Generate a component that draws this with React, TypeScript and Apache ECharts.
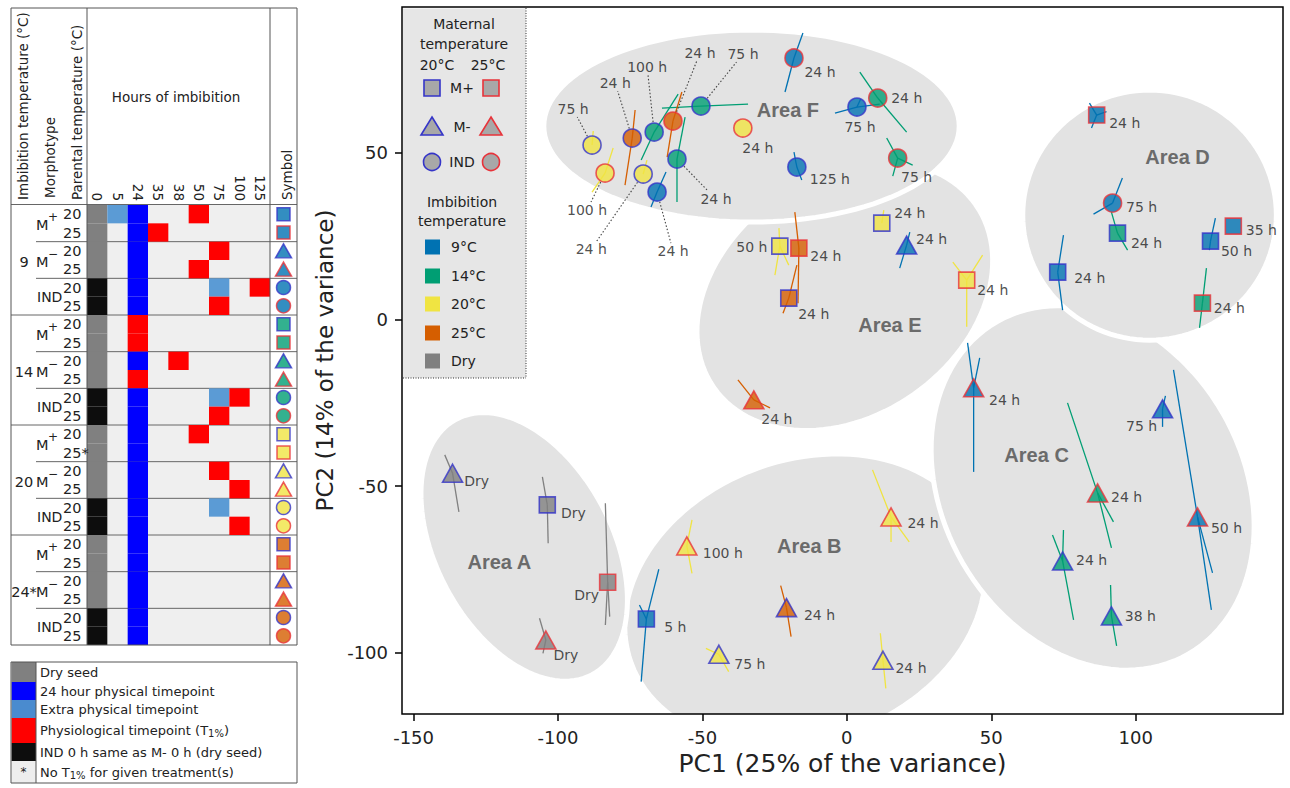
import React, { useEffect, useRef } from "react";
import * as echarts from "echarts";

// ---------------- Left table data ----------------
const hourCats = ["0", "5", "24", "35", "38", "50", "75", "100", "125"];
const tempGroups = ["9", "14", "20", "24*"];
const morphNames = ["M+", "M-", "IND"];
const parentTemps = ["20", "25"];
// one code per hour column: g dry seed, k IND 0 h, b 24 h physical, l extra physical, r physiological (T1%)
const rowCodes = [
  "glb..r...", "g.br.....", "g.b...r..", "g.b..r...", "k.b...l.r", "k.b...r..",
  "g.r......", "g.r......", "g.b.r....", "g.r......", "k.b...lr.", "k.b...r..",
  "g.b..r...", "g.b......", "g.b...r..", "g.b....r.", "k.b...l..", "k.b....r.",
  "g.b......", "g.b......", "g.b......", "g.b......", "k.b......", "k.b......",
];
const noT1Rows = [13];
const keyCodes = ["g", "b", "l", "r", "k", "n"];
const keyTexts = [
  "Dry seed",
  "24 hour physical timepoint",
  "Extra physical timepoint",
  "Physiological timepoint (T1%)",
  "IND 0 h same as M- 0 h (dry seed)",
  "No T1% for given treatment(s)",
];

// ---------------- PCA scatter data ----------------
const ptX = [
  -18.3, 10.7, 3.5, 17.6, -17.3, -36.0, -50.5, -60.2, -66.7, -74.3, -88.2, -83.7, -70.5, -65.7, -58.8,
  86.5, 92.0, 93.7, 73.0, 133.8, 125.9, 123.1,
  12.1, 20.7, 41.5, -23.2, -16.6, -20.1, -32.2,
  43.9, 109.3, 86.8, 121.4, 74.7, 91.6,
  -136.5, -103.7, -82.8, -104.2,
  -69.4, -55.4, -20.9, -44.3, 15.3, 12.5,
];
const ptY = [
  78.4, 66.4, 63.7, 48.4, 45.7, 57.4, 64.0, 59.5, 56.2, 54.4, 52.3, 43.9, 43.6, 38.2, 48.1,
  61.3, 34.9, 25.9, 14.2, 28.0, 23.5, 4.9,
  28.9, 22.3, 11.8, 22.0, 21.4, 6.4, -24.1,
  -20.5, -26.8, -52.0, -59.2, -72.4, -88.9,
  -46.1, -55.6, -78.8, -96.1,
  -89.8, -67.9, -86.4, -100.4, -59.2, -102.2,
];
const ptImb = [
  "9", "14", "9", "14", "9", "20", "14", "25", "14", "25", "20", "20", "20", "9", "14",
  "9", "9", "14", "9", "9", "9", "14",
  "20", "9", "20", "20", "25", "25", "25",
  "9", "9", "14", "9", "14", "14",
  "Dry", "Dry", "Dry", "Dry",
  "9", "20", "25", "20", "20", "20",
];
const ptMat = [
  25, 25, 20, 25, 20, 25, 20, 25, 20, 20, 20, 25, 20, 20, 20,
  25, 25, 20, 20, 25, 20, 25,
  20, 20, 25, 20, 25, 20, 25,
  25, 20, 25, 25, 20, 20,
  20, 20, 25, 25,
  20, 25, 20, 20, 25, 20,
];
const ptMorph = [
  "IND", "IND", "IND", "IND", "IND", "IND", "IND", "IND", "IND", "IND", "IND", "IND", "IND", "IND", "IND",
  "M+", "IND", "M+", "M+", "M+", "M+", "M+",
  "M+", "M-", "M+", "M+", "M+", "M+", "M-",
  "M-", "M-", "M-", "M-", "M-", "M-",
  "M-", "M+", "M+", "M-",
  "M+", "M-", "M-", "M-", "M-", "M-",
];
const ptHour = [
  "24 h", "24 h", "75 h", "75 h", "125 h", "24 h", "75 h", "24 h", "100 h", "24 h", "75 h", "100 h", "24 h", "24 h", "24 h",
  "24 h", "75 h", "24 h", "24 h", "35 h", "50 h", "24 h",
  "24 h", "24 h", "24 h", "50 h", "24 h", "24 h", "24 h",
  "24 h", "75 h", "24 h", "50 h", "24 h", "38 h",
  "Dry", "Dry", "Dry", "Dry",
  "5 h", "100 h", "24 h", "75 h", "24 h", "24 h",
];
// replicate positions (line ends) around each treatment centroid
const ptReps: number[][][] = [
  [[-15.2, 85.9], [-21.4, 68.2]], [[4.5, 74.2], [20.7, 56.2]], [[-4.1, 61.9], [11.4, 64.6], [4.8, 66.1]],
  [[13.8, 54.4], [22.8, 46.3], [15.9, 43.0]], [[-18.3, 50.2], [-15.6, 41.8]], [],
  [[-64.0, 63.4], [-34.2, 64.6]], [[-57.1, 68.2], [-62.2, 48.7]], [[-58.4, 67.6], [-71.2, 47.8]],
  [[-73.3, 62.8], [-76.8, 40.3]], [[-87.8, 56.5]], [[-80.9, 51.4], [-88.2, 38.2]],
  [[-69.2, 47.8]], [[-62.6, 44.2], [-67.8, 33.7]], [[-56.0, 60.7], [-58.8, 35.2]],
  [[84.0, 64.9], [84.7, 57.4], [89.9, 62.3]], [[95.4, 42.4], [85.4, 31.6]], [[91.6, 32.2], [97.2, 20.8]],
  [[75.0, 25.3], [74.7, 2.8]], [], [[127.6, 30.4], [125.5, 20.8]], [[124.5, 15.4], [122.1, -2.5]],
  [[12.8, 32.8]], [[21.8, 26.2], [18.3, 15.4]], [[41.5, -2.2], [36.7, 17.2], [47.0, 19.3]],
  [[-23.5, 27.4], [-24.9, 13.3], [-20.1, 16.3]], [[-18.0, 32.2], [-16.9, 4.9]], [[-17.3, 16.3], [-22.1, 1.9]],
  [[-37.7, -18.1], [-26.6, -26.5]],
  [[41.8, -7.0], [43.9, -45.7], [46.0, -11.5]], [[110.3, -22.9], [109.3, -32.2]],
  [[76.4, -25.0], [91.6, -68.5], [92.3, -60.7]], [[113.1, -15.1], [126.2, -87.1], [126.6, -76.0]],
  [[71.2, -64.6], [78.5, -90.1], [75.0, -63.1]], [[91.3, -79.6], [93.4, -97.9]],
  [[-139.2, -40.6], [-134.3, -57.7]], [[-105.4, -47.2], [-103.4, -67.1]],
  [[-83.6, -55.1], [-83.6, -91.6], [-82.1, -89.1]], [[-106.4, -89.6], [-105.2, -100.1]],
  [[-65.1, -74.9], [-71.2, -108.6], [-71.8, -85.6]], [[-53.6, -60.1], [-53.6, -76.1]],
  [[-22.9, -79.8], [-19.3, -95.1]], [[-48.8, -98.6], [-40.9, -105.6]],
  [[8.9, -45.1], [21.6, -66.7], [15.3, -66.7]], [[11.6, -94.1], [13.5, -110.6]],
];

// grouping areas (ellipses in data units, tilt in screen degrees)
const areaNames = ["Area B", "Area A", "Area E", "Area C", "Area D", "Area F"];
const areaCX = [-14.5, -111.7, -0.7, 85.1, 104.8, -33.0];
const areaCY = [-84.1, -68.2, 7.0, -50.5, 31.3, 58.0];
const areaRX = [64.0, 50.1, 55.3, 66.4, 43.9, 71.9];
const areaRY = [42.0, 26.4, 36.0, 45.0, 37.5, 28.8];
const areaTilt = [-20, 62, -35, 60, 0, 0];
const areaLabelX = [-13.0, -120.3, 14.9, 65.7, 114.5, -20.4];
const areaLabelY = [-67.9, -72.7, -1.6, -40.6, 48.7, 62.8];

const xTicks = [-150, -100, -50, 0, 50, 100];
const yTicks = [-100, -50, 0, 50];

const imbKeys = ["9", "14", "20", "25", "Dry"];
const imbLabels = ["9°C", "14°C", "20°C", "25°C", "Dry"];

// ---------------- styles ----------------
const FONT = "DejaVu Sans";
const imbColor: Record<string, string> = { "9": "#0072B2", "14": "#009E73", "20": "#F0E442", "25": "#D55E00", Dry: "#808080" };
const matColor: Record<number, string> = { 20: "#3535c8", 25: "#e8333a" };
const cellColor: Record<string, string> = { g: "#808080", k: "#0d0d0d", b: "#0000ff", l: "#5b9bd5", r: "#ff0000", n: "#eeeeee" };
const groupFill = ["#0072B2", "#009E73", "#F0E442", "#D55E00"];
const symOf: Record<string, string> = { "M+": "rect", "M-": "triangle", IND: "circle" };
const sizeOf: Record<string, any> = { "M+": 16, "M-": [20, 18], IND: 18 };
const tableSize: Record<string, any> = { "M+": 13, "M-": [16, 14], IND: 14 };
// label centre offsets from symbol centre (px)
const labelShift: number[][] = [
  [26, 14], [29, 0], [3, 20], [19, 19], [33, 12], [15, 20], [42, -52], [27, -68], [-7, -65], [-17, -55], [-19, -36], [-18, 37], [-52, 75], [16, 59], [39, 40],
  [28, 8], [29, 4], [29, 10], [32, 6], [28, 4], [26, 10], [27, 5],
  [28, -10], [25, -6], [26, 10], [-28, 1], [27, 8], [25, 16], [23, 19],
  [31, 12], [-21, 17], [29, 4], [29, 11], [29, -1], [29, 0],
  [24, 8], [26, 8], [-21, 13], [20, 15],
  [29, 8], [36, 7], [33, 7], [31, 10], [32, 6], [28, 8],
];
const leaderIdx = [6, 7, 8, 9, 10, 11, 12, 13, 14];

function buildOption() {
  const H = 440 / 24;
  const T0 = 205;
  const gr: any[] = [];
  const text = (t: string, x: number, y: number, o: any = {}) => ({
    type: "text", x, y, z: 60, silent: true, rotation: o.rot || 0,
    style: {
      text: t, fontSize: o.size || 14, fontFamily: o.family || FONT, fontWeight: o.weight || "normal",
      fill: o.color || "#222", align: o.align || "left", verticalAlign: o.va || "middle", rich: o.rich,
    },
  });
  const line = (x1: number, y1: number, x2: number, y2: number, z = 1, color = "#666", extra: any = {}) => ({
    type: "line", z, silent: true, shape: { x1, y1, x2, y2 }, style: { stroke: color, lineWidth: 1, ...extra },
  });

  // ---- table body ----
  gr.push({ type: "rect", z: 0, silent: true, shape: { x: 87, y: T0, width: 183, height: 440 }, style: { fill: "#efefef" } });
  gr.push(line(11, 204.5, 297, 204.5, 50));
  for (let k = 1; k < 4; k++) gr.push(line(11, T0 + 6 * k * H, 297, T0 + 6 * k * H, 1));
  for (let k = 0; k < 4; k++) {
    gr.push(line(36, T0 + (6 * k + 2) * H, 297, T0 + (6 * k + 2) * H, 1));
    gr.push(line(36, T0 + (6 * k + 4) * H, 297, T0 + (6 * k + 4) * H, 1));
  }
  gr.push({ type: "rect", z: 50, silent: true, shape: { x: 11, y: 8, width: 286, height: 637 }, style: { fill: "none", stroke: "#555", lineWidth: 1 } });
  gr.push(line(87, 8, 87, 645, 50, "#555"));
  gr.push(line(270, 8, 270, 645, 50, "#555"));

  // header
  gr.push(text("Imbibition temperature (°C)", 23, 200, { rot: Math.PI / 2, size: 13.5 }));
  gr.push(text("Morphotype", 50, 198, { rot: Math.PI / 2, size: 13.5 }));
  gr.push(text("Parental temperature (°C)", 77, 200, { rot: Math.PI / 2, size: 13.5 }));
  gr.push(text("Symbol", 287, 200, { rot: Math.PI / 2, size: 13.5 }));
  gr.push(text("Hours of imbibition", 176, 97, { size: 13.5, align: "center" }));

  // row labels
  tempGroups.forEach((tg, g) => {
    gr.push(text(tg, 24, T0 + (6 * g + 3) * H + 2, { size: 14.5, align: "center" }));
    morphNames.forEach((m, mi) => {
      const r0 = 6 * g + 2 * mi;
      const cy = T0 + (r0 + 1) * H;
      if (m === "IND") {
        gr.push(text("IND", 37, cy, { size: 14 }));
      } else {
        gr.push(text("M", 36, cy + 2, { size: 14.5 }));
        gr.push(text(m === "M+" ? "+" : "−", 48, cy - 6, { size: 12 }));
      }
      parentTemps.forEach((p, pi) => {
        const r = r0 + pi;
        gr.push(text(p + (noT1Rows.indexOf(r) >= 0 ? "*" : ""), 63, T0 + (r + 0.5) * H, { size: 14.5 }));
      });
    });
  });

  // table key
  const keyTops = [662, 682, 700, 718, 743, 761, 783];
  gr.push({ type: "rect", z: 50, silent: true, shape: { x: 11, y: 662, width: 286, height: 121 }, style: { fill: "none", stroke: "#555", lineWidth: 1 } });
  keyCodes.forEach((c, i) => {
    gr.push({ type: "rect", z: 40, silent: true, shape: { x: 11.5, y: keyTops[i], width: 24.5, height: keyTops[i + 1] - keyTops[i] }, style: { fill: c === "l" ? "#4a8bcf" : cellColor[c] } });
    const t = keyTexts[i].replace("T1%", "T{s|1%}");
    gr.push(text(t, 40, (keyTops[i] + keyTops[i + 1]) / 2, {
      size: 13,
      rich: { s: { fontSize: 10, fontFamily: FONT, fill: "#222", color: "#222", padding: [6, 0, 0, 0] } },
    }));
    if (c === "n") gr.push(text("*", 23.5, (keyTops[i] + keyTops[i + 1]) / 2, { size: 12, align: "center" }));
  });
  gr.push(line(36, 662, 36, 783, 50, "#555"));

  // ---- legend inside PCA plot ----
  gr.push({ type: "rect", z: 20, silent: true, shape: { x: 403, y: 8.5, width: 123, height: 369.5 }, style: { fill: "#e6e6e6" } });
  gr.push(line(526, 8, 526, 378, 21, "#333", { lineDash: [1, 1.5] }));
  gr.push(line(403, 378, 526, 378, 21, "#333", { lineDash: [1, 1.5] }));
  gr.push(text("Maternal", 464, 24, { align: "center", size: 14 }));
  gr.push(text("temperature", 464, 44, { align: "center", size: 14 }));
  gr.push(text("20°C", 437, 65, { align: "center", size: 14 }));
  gr.push(text("25°C", 488, 65, { align: "center", size: 14 }));
  const legRows = [88, 127, 162];
  morphNames.forEach((m, mi) => {
    const y = legRows[mi];
    gr.push(text(m, 462, y, { align: "center", size: 14 }));
    [432, 491].forEach((x, k) => {
      const st = { fill: "#a8a8a8", stroke: matColor[k === 0 ? 20 : 25], lineWidth: 1.6 };
      if (m === "M+") gr.push({ type: "rect", z: 22, silent: true, shape: { x: x - 8, y: y - 8, width: 16, height: 16 }, style: st });
      else if (m === "M-") gr.push({ type: "polygon", z: 22, silent: true, shape: { points: [[x, y - 10], [x + 11, y + 8], [x - 11, y + 8]] }, style: st });
      else gr.push({ type: "circle", z: 22, silent: true, shape: { cx: x, cy: y, r: 8.5 }, style: st });
    });
  });
  gr.push(text("Imbibition", 462, 202, { align: "center", size: 14 }));
  gr.push(text("temperature", 462, 221, { align: "center", size: 14 }));
  const imbRows = [247, 276, 304, 333, 361];
  imbKeys.forEach((k, i) => {
    gr.push({ type: "rect", z: 22, silent: true, shape: { x: 425, y: imbRows[i] - 7.5, width: 15, height: 15 }, style: { fill: imbColor[k] } });
    gr.push(text(imbLabels[i], 451, imbRows[i], { size: 14 }));
  });

  // ---- cell data ----
  const cells: number[][] = [];
  rowCodes.forEach((codes, r) => {
    codes.split("").forEach((c, col) => {
      if (c !== ".") cells.push([col, r, "gklbr".indexOf(c)]);
    });
  });
  const cellCodes = "gklbr";
  const rowIds = rowCodes.map((_, i) => String(i));
  const symbolRows = rowCodes.map((_, r) => {
    const g = Math.floor(r / 6);
    const m = morphNames[Math.floor((r % 6) / 2)];
    const p = r % 2 === 0 ? 20 : 25;
    return {
      value: [0, r], symbol: symOf[m], symbolSize: tableSize[m],
      itemStyle: { color: groupFill[g], borderColor: matColor[p], borderWidth: 1.5 },
    };
  });

  const points = ptX.map((x, i) => ({
    value: [x, ptY[i]],
    symbol: symOf[ptMorph[i]],
    symbolSize: sizeOf[ptMorph[i]],
    itemStyle: { color: imbColor[ptImb[i]], borderColor: matColor[ptMat[i]], borderWidth: 1.6 },
    label: { offset: labelShift[i] },
  }));

  return {
    animation: false,
    backgroundColor: "#ffffff",
    grid: [
      { left: 402, top: 7, right: 7, bottom: 74, show: true, borderColor: "#000", borderWidth: 1.5, backgroundColor: "transparent", z: 10 },
      { left: 87, top: T0, width: 183, height: 440, show: false },
      { left: 270, top: T0, width: 27, height: 440, show: false },
    ],
    xAxis: [
      {
        type: "value", gridIndex: 0, min: -154, max: 151, position: "bottom",
        axisLine: { show: false, onZero: false },
        axisTick: { show: true, length: 7, lineStyle: { color: "#000", width: 1.5 }, customValues: xTicks },
        axisLabel: { customValues: xTicks, fontSize: 18, fontFamily: FONT, color: "#222", margin: 14 },
        splitLine: { show: false },
        name: "PC1 (25% of the variance)", nameLocation: "middle", nameGap: 33,
        nameTextStyle: { fontSize: 25, fontFamily: FONT, color: "#222" },
      },
      {
        type: "category", gridIndex: 1, data: hourCats, position: "top",
        axisLine: { show: false, onZero: false }, axisTick: { show: false }, splitLine: { show: false },
        axisLabel: { rotate: 90, interval: 0, fontSize: 13.5, fontFamily: FONT, color: "#222", margin: 4 },
      },
      { type: "category", gridIndex: 2, data: ["s"], show: false },
    ],
    yAxis: [
      {
        type: "value", gridIndex: 0, min: -118.3, max: 93.7, position: "left",
        axisLine: { show: false, onZero: false },
        axisTick: { show: true, length: 7, lineStyle: { color: "#000", width: 1.5 }, customValues: yTicks },
        axisLabel: { customValues: yTicks, fontSize: 18, fontFamily: FONT, color: "#222", margin: 14 },
        splitLine: { show: false },
        name: "PC2 (14% of the variance)", nameLocation: "middle", nameGap: 55,
        nameTextStyle: { fontSize: 23, fontFamily: FONT, color: "#222" },
      },
      { type: "category", gridIndex: 1, data: rowIds, inverse: true, show: false },
      { type: "category", gridIndex: 2, data: rowIds, inverse: true, show: false },
    ],
    graphic: { elements: gr },
    series: [
      {
        type: "custom", name: "areas", coordinateSystem: "cartesian2d", xAxisIndex: 0, yAxisIndex: 0, z: 1, clip: true, silent: true,
        data: areaNames.map((_, i) => [areaCX[i], areaCY[i], areaRX[i], areaRY[i], areaTilt[i], i]),
        renderItem: (params: any, api: any) => {
          const c = api.coord([api.value(0), api.value(1)]);
          const a = api.size([api.value(2), 0])[0];
          const b = api.size([0, api.value(3)])[1];
          const th = (api.value(4) * Math.PI) / 180;
          const pts: number[][] = [];
          for (let k = 0; k < 120; k++) {
            const t = (k / 120) * 2 * Math.PI;
            const ex = a * Math.cos(t), ey = b * Math.sin(t);
            pts.push([c[0] + ex * Math.cos(th) - ey * Math.sin(th), c[1] + ex * Math.sin(th) + ey * Math.cos(th)]);
          }
          return { type: "polygon", shape: { points: pts }, style: { fill: "#e3e3e3", stroke: "#ffffff", lineWidth: 5 } };
        },
      },
      {
        type: "custom", name: "areaLabels", coordinateSystem: "cartesian2d", xAxisIndex: 0, yAxisIndex: 0, z: 1, silent: true,
        data: areaNames.map((_, i) => [areaLabelX[i], areaLabelY[i], i]),
        renderItem: (params: any, api: any) => {
          const c = api.coord([api.value(0), api.value(1)]);
          return {
            type: "text", x: c[0], y: c[1],
            style: { text: areaNames[api.value(2)], fontSize: 20, fontWeight: "bold", fontFamily: "Liberation Sans", fill: "#6b6b6b", align: "center", verticalAlign: "middle" },
          };
        },
      },
      {
        type: "custom", name: "replicates", coordinateSystem: "cartesian2d", xAxisIndex: 0, yAxisIndex: 0, z: 2, silent: true,
        data: ptX.map((x, i) => [x, ptY[i], i]),
        renderItem: (params: any, api: any) => {
          const i = api.value(2);
          const p = api.coord([api.value(0), api.value(1)]);
          return {
            type: "group",
            children: ptReps[i].map((r) => {
              const q = api.coord(r);
              return { type: "line", shape: { x1: p[0], y1: p[1], x2: q[0], y2: q[1] }, style: { stroke: imbColor[ptImb[i]], lineWidth: 1.3 } };
            }),
          };
        },
      },
      {
        type: "custom", name: "leaders", coordinateSystem: "cartesian2d", xAxisIndex: 0, yAxisIndex: 0, z: 3, silent: true,
        data: leaderIdx.map((i) => [ptX[i], ptY[i], i]),
        renderItem: (params: any, api: any) => {
          const i = api.value(2);
          const p = api.coord([api.value(0), api.value(1)]);
          const dx = labelShift[i][0], dy = labelShift[i][1];
          const len = Math.hypot(dx, dy);
          const s = [p[0] + (dx / len) * 10, p[1] + (dy / len) * 10];
          const hw = ptHour[i].length * 4.3 + 1, hh = 8;
          const t = Math.min(hw / Math.max(Math.abs(dx), 1e-6), hh / Math.max(Math.abs(dy), 1e-6));
          const e = [p[0] + dx - dx * t, p[1] + dy - dy * t];
          return { type: "line", shape: { x1: s[0], y1: s[1], x2: e[0], y2: e[1] }, style: { stroke: "#444", lineWidth: 1.1, lineDash: [1.5, 2] } };
        },
      },
      {
        type: "scatter", name: "treatments", xAxisIndex: 0, yAxisIndex: 0, z: 4, silent: true,
        data: points,
        label: {
          show: true, position: "inside", fontSize: 14, fontFamily: FONT, color: "#222",
          formatter: (p: any) => ptHour[p.dataIndex],
        },
      },
      {
        type: "custom", name: "cells", coordinateSystem: "cartesian2d", xAxisIndex: 1, yAxisIndex: 1, z: 2, silent: true,
        data: cells,
        renderItem: (params: any, api: any) => {
          const c = api.coord([api.value(0), api.value(1)]);
          const s = api.size([1, 1]);
          return {
            type: "rect",
            shape: { x: c[0] - s[0] / 2, y: c[1] - s[1] / 2, width: s[0], height: s[1] },
            style: { fill: cellColor[cellCodes[api.value(2)]] },
          };
        },
      },
      {
        type: "scatter", name: "symbols", xAxisIndex: 2, yAxisIndex: 2, z: 4, silent: true,
        data: symbolRows,
      },
    ],
  };
}

export default function App() {
  const ref = useRef<HTMLDivElement>(null);
  useEffect(() => {
    if (!ref.current) return;
    const chart = echarts.init(ref.current, undefined, { renderer: "svg" });
    chart.setOption(buildOption() as any);
    return () => chart.dispose();
  }, []);
  return (
    <div
      ref={ref}
      style={{ position: "fixed", left: 0, top: 0, width: 1290, height: 788, background: "#fff" }}
    />
  );
}
